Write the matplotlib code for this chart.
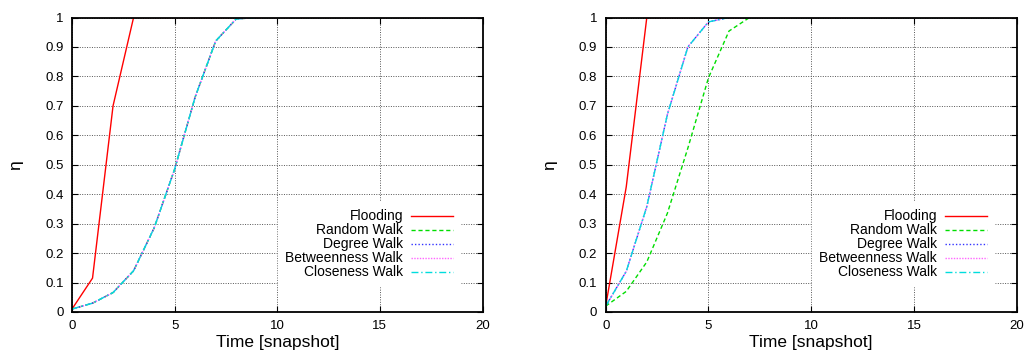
import matplotlib
matplotlib.use("Agg")
import matplotlib.pyplot as plt

plt.rcParams['font.family'] = ['Liberation Sans', 'DejaVu Sans']

series_names = ["Flooding", "Random Walk", "Degree Walk", "Betweenness Walk", "Closeness Walk"]

# Left panel
left_t = [0, 1, 2, 3, 4, 5, 6, 7, 8, 9, 10, 11, 12, 13, 14, 15, 16, 17, 18, 19, 20]
left_flood = [0.01, 0.115, 0.70, 1.0, 1.0, 1.0, 1.0, 1.0, 1.0, 1.0, 1.0, 1.0, 1.0, 1.0, 1.0, 1.0, 1.0, 1.0, 1.0, 1.0, 1.0]
left_walk = [0.01, 0.03, 0.066, 0.14, 0.285, 0.485, 0.73, 0.92, 0.995, 1.0, 1.0, 1.0, 1.0, 1.0, 1.0, 1.0, 1.0, 1.0, 1.0, 1.0, 1.0]
left_values = [left_flood, left_walk, left_walk, left_walk, left_walk]

# Right panel
right_t = left_t
right_flood = [0.02, 0.425, 1.0, 1.0, 1.0, 1.0, 1.0, 1.0, 1.0, 1.0, 1.0, 1.0, 1.0, 1.0, 1.0, 1.0, 1.0, 1.0, 1.0, 1.0, 1.0]
right_random = [0.02, 0.07, 0.17, 0.335, 0.557, 0.795, 0.954, 1.0, 1.0, 1.0, 1.0, 1.0, 1.0, 1.0, 1.0, 1.0, 1.0, 1.0, 1.0, 1.0, 1.0]
right_walk = [0.02, 0.138, 0.358, 0.67, 0.90, 0.985, 1.0, 1.0, 1.0, 1.0, 1.0, 1.0, 1.0, 1.0, 1.0, 1.0, 1.0, 1.0, 1.0, 1.0, 1.0]
right_values = [right_flood, right_random, right_walk, right_walk, right_walk]

x_ticks = [0, 5, 10, 15, 20]
y_ticks = [0, 0.1, 0.2, 0.3, 0.4, 0.5, 0.6, 0.7, 0.8, 0.9, 1]
y_ticklabels = ["0", "0.1", "0.2", "0.3", "0.4", "0.5", "0.6", "0.7", "0.8", "0.9", "1"]

colors = ["#ff0000", "#00dd00", "#3333ff", "#ff66ff", "#00dddd"]
styles = ["-", (0, (3, 2)), (0, (1, 1.5)), (0, (1, 1)), (0, (5, 2, 1, 2))]
widths = [1.0, 1.0, 1.0, 1.0, 1.0]

fig = plt.figure(figsize=(10.28, 3.57), dpi=100)
ax1 = fig.add_axes([72/1028, 1-312/357, (482.5-72)/1028, (312-17.5)/357])
ax2 = fig.add_axes([605.7/1028, 1-312/357, (1016.7-605.7)/1028, (312-17.5)/357])

for ax, t, vals in [(ax1, left_t, left_values), (ax2, right_t, right_values)]:
    for name, v, c, ls, lw in zip(series_names, vals, colors, styles, widths):
        ax.plot(t, v, color=c, linestyle=ls, linewidth=lw, label=name)
    ax.set_xlim(0, 20)
    ax.set_ylim(0, 1)
    ax.set_xticks(x_ticks)
    ax.set_yticks(y_ticks)
    ax.set_yticklabels(y_ticklabels)
    ax.tick_params(direction='in', top=True, right=True, length=4, labelsize=9.5, pad=6, width=0.8)
    ax.grid(True, color='#555555', linestyle=(0, (1, 1.5)), linewidth=0.7)
    for s in ax.spines.values():
        s.set_linewidth(1.3)
    ax.set_xlabel("Time [snapshot]", fontsize=12.5, labelpad=2)
    ax.set_ylabel("η", fontsize=12.5, labelpad=16)
    leg = ax.legend(loc='lower right', bbox_to_anchor=(0.945, 0.087), markerfirst=False,
                    frameon=True, fontsize=10, handlelength=3.0, handletextpad=0.6,
                    labelspacing=0.0, borderpad=0.5, borderaxespad=0.0, fancybox=False)
    leg.get_frame().set_edgecolor('white')
    leg.get_frame().set_facecolor('white')
    leg.get_frame().set_alpha(1.0)

fig.savefig("out.png", dpi=100)
